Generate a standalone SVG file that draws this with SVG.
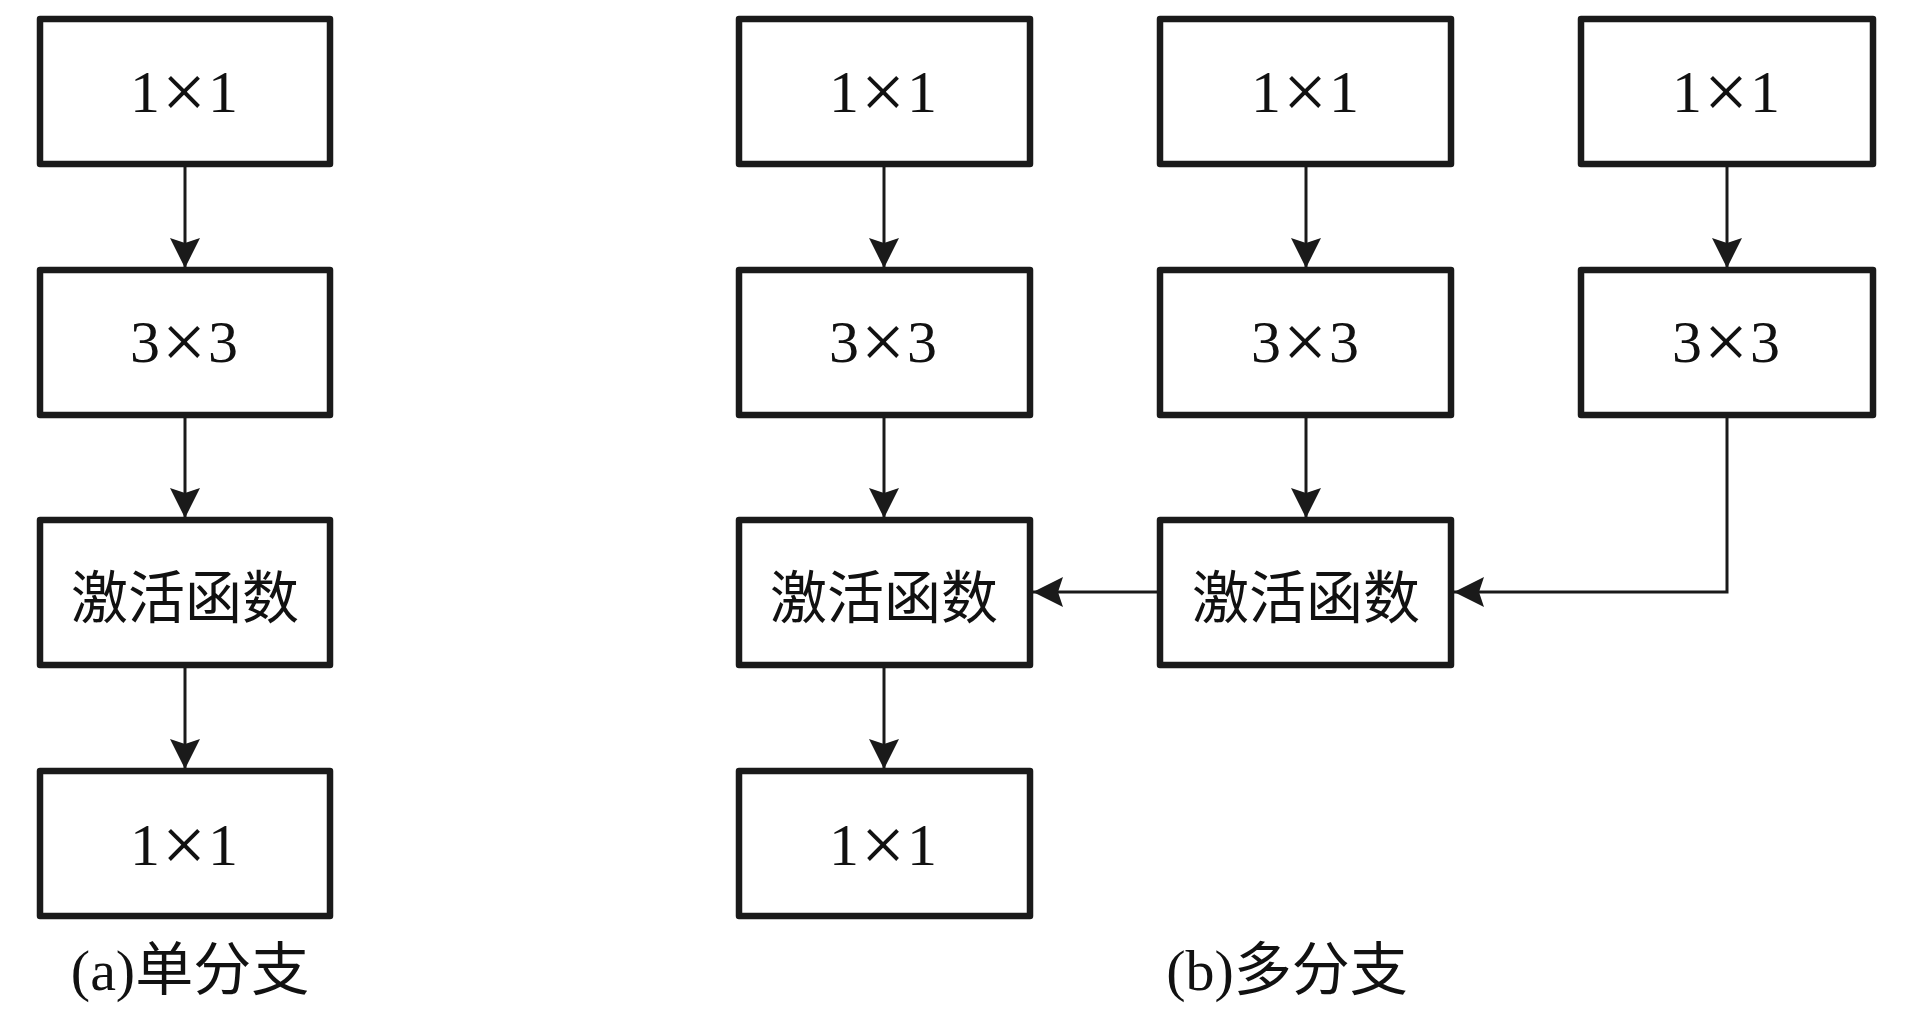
<svg xmlns="http://www.w3.org/2000/svg" width="1913" height="1016" viewBox="0 0 1913 1016">
<style>
.box{fill:#fff;stroke:#1a1a1a;stroke-width:6.5;stroke-linejoin:round}
.lat{font-family:"Liberation Serif","Noto Sans CJK SC",serif;font-size:60px;fill:#111;text-anchor:middle;letter-spacing:2px}
.x{font-size:78px}
.cjk{font-family:"Noto Sans CJK SC","Noto Sans CJK JP",sans-serif;font-size:57px;fill:#111;text-anchor:middle;dominant-baseline:central}
.cap{font-family:"Liberation Serif","Noto Sans CJK SC",serif;font-size:58px;fill:#111;text-anchor:middle}
.conn{fill:none;stroke:#1a1a1a;stroke-width:3}
</style>
<defs>
<marker id="ah" markerUnits="userSpaceOnUse" viewBox="0 0 30 30" refX="30" refY="15" markerWidth="30" markerHeight="30" orient="auto">
<path d="M30,15 L0,0 L5,15 L0,30 Z" fill="#1a1a1a"/>
</marker>
</defs>
<rect width="1913" height="1016" fill="#fff"/>
<g id="connectors">
<line class="conn" x1="185" y1="167" x2="185" y2="268" marker-end="url(#ah)"/>
<line class="conn" x1="185" y1="418" x2="185" y2="518" marker-end="url(#ah)"/>
<line class="conn" x1="185" y1="668" x2="185" y2="769" marker-end="url(#ah)"/>
<line class="conn" x1="884" y1="167" x2="884" y2="268" marker-end="url(#ah)"/>
<line class="conn" x1="884" y1="418" x2="884" y2="518" marker-end="url(#ah)"/>
<line class="conn" x1="884" y1="668" x2="884" y2="769" marker-end="url(#ah)"/>
<line class="conn" x1="1306" y1="167" x2="1306" y2="268" marker-end="url(#ah)"/>
<line class="conn" x1="1306" y1="418" x2="1306" y2="518" marker-end="url(#ah)"/>
<line class="conn" x1="1727" y1="167" x2="1727" y2="268" marker-end="url(#ah)"/>
<polyline class="conn" points="1727,418 1727,592 1454,592" marker-end="url(#ah)"/>
<line class="conn" x1="1157" y1="592" x2="1033" y2="592" marker-end="url(#ah)"/>
</g>
<g id="a1"><rect class="box" x="40" y="19" width="290" height="145"/><text class="lat" x="185" y="112">1<tspan class="x" dy="6">×</tspan><tspan dy="-6">1</tspan></text></g>
<g id="a2"><rect class="box" x="40" y="270" width="290" height="145"/><text class="lat" x="185" y="362">3<tspan class="x" dy="6">×</tspan><tspan dy="-6">3</tspan></text></g>
<g id="a3"><rect class="box" x="40" y="520" width="290" height="145"/><text class="cjk" x="185" y="593">激活函数</text></g>
<g id="a4"><rect class="box" x="40" y="771" width="290" height="145"/><text class="lat" x="185" y="865">1<tspan class="x" dy="6">×</tspan><tspan dy="-6">1</tspan></text></g>
<g id="b1-1"><rect class="box" x="739" y="19" width="291" height="145"/><text class="lat" x="884" y="112">1<tspan class="x" dy="6">×</tspan><tspan dy="-6">1</tspan></text></g>
<g id="b1-2"><rect class="box" x="739" y="270" width="291" height="145"/><text class="lat" x="884" y="362">3<tspan class="x" dy="6">×</tspan><tspan dy="-6">3</tspan></text></g>
<g id="b1-3"><rect class="box" x="739" y="520" width="291" height="145"/><text class="cjk" x="884" y="593">激活函数</text></g>
<g id="b1-4"><rect class="box" x="739" y="771" width="291" height="145"/><text class="lat" x="884" y="865">1<tspan class="x" dy="6">×</tspan><tspan dy="-6">1</tspan></text></g>
<g id="b2-1"><rect class="box" x="1160" y="19" width="291" height="145"/><text class="lat" x="1306" y="112">1<tspan class="x" dy="6">×</tspan><tspan dy="-6">1</tspan></text></g>
<g id="b2-2"><rect class="box" x="1160" y="270" width="291" height="145"/><text class="lat" x="1306" y="362">3<tspan class="x" dy="6">×</tspan><tspan dy="-6">3</tspan></text></g>
<g id="b2-3"><rect class="box" x="1160" y="520" width="291" height="145"/><text class="cjk" x="1306" y="593">激活函数</text></g>
<g id="b3-1"><rect class="box" x="1581" y="19" width="292" height="145"/><text class="lat" x="1727" y="112">1<tspan class="x" dy="6">×</tspan><tspan dy="-6">1</tspan></text></g>
<g id="b3-2"><rect class="box" x="1581" y="270" width="292" height="145"/><text class="lat" x="1727" y="362">3<tspan class="x" dy="6">×</tspan><tspan dy="-6">3</tspan></text></g>
<g id="captions">
<text class="cap" x="190" y="990">(a)单分支</text>
<text class="cap" x="1287" y="990">(b)多分支</text>
</g>
</svg>
